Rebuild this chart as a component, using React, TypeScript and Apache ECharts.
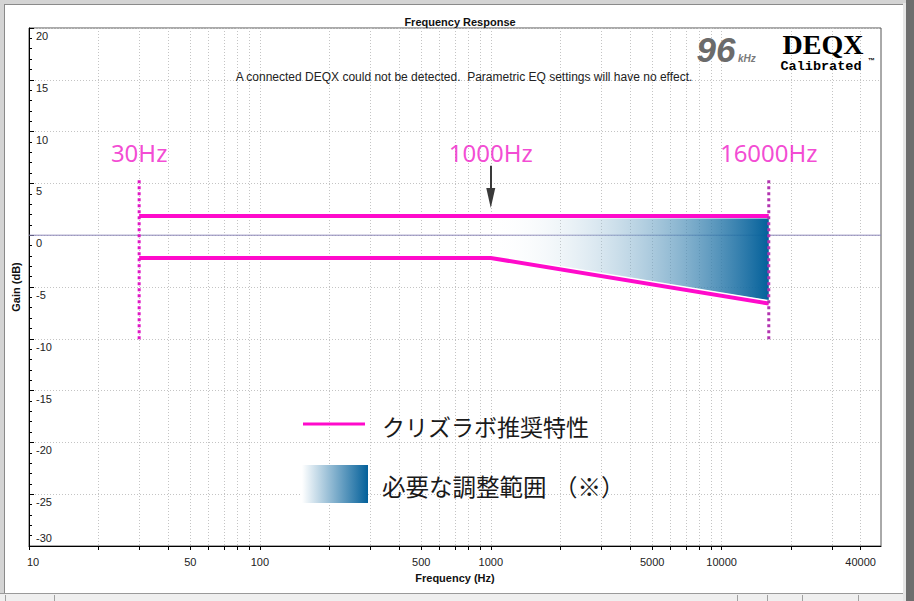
import React, { useEffect, useRef } from 'react';
import * as echarts from 'echarts';

// ---- data ----
const xMin = 10;
const xMax = 49000;
const xLabelValues = [10, 50, 100, 500, 1000, 5000, 10000, 40000];
const xGridValues = [
  10, 20, 30, 40, 50, 60, 70, 80, 90,
  100, 200, 300, 400, 500, 600, 700, 800, 900,
  1000, 2000, 3000, 4000, 5000, 6000, 7000, 8000, 9000,
  10000, 20000, 30000, 40000,
];
const yMin = -30;
const yMax = 20;
const yStep = 5;

const zeroResponse = [[10, 0], [49000, 0]];
const upperCurve = [[30, 1.85], [16000, 1.85]];
const lowerCurve = [[30, -2.2], [1000, -2.2], [16000, -6.6]];
const lowerCurveSlope = [[1000, -2.2], [16000, -6.6]];
const rangeBand = [[1000, 1.62], [16000, 1.62], [16000, -6.3], [1000, -1.95]];
const markerFreqs = [30, 1000, 16000];
const markerLabels = ['30Hz', '1000Hz', '16000Hz'];
const markerLabelLevel = 8.0;
const dashLeft = [[30, 5.3], [30, -10.1]];
const dashRight = [[16000, 5.3], [16000, -10.1]];
const arrowFrom = [1000, 6.7];
const arrowTo = [1000, 3.6];

const titleText = 'Frequency Response';
const xName = 'Frequency (Hz)';
const yName = 'Gain (dB)';
const noticeText = 'A connected DEQX could not be detected.  Parametric EQ settings will have no effect.';
const legendLineText = 'クリズラボ推奨特性';
const legendBandTextMain = '必要な調整範囲';
const legendBandTextNote = '（※）';

const SANS = "'Liberation Sans', Arial, sans-serif";
const JP = "'Noto Sans CJK JP', 'Noto Sans', sans-serif";
const MAGENTA = '#ff0acb';

export default function App() {
  const ref = useRef<HTMLDivElement>(null);
  useEffect(() => {
    document.body.style.margin = '0';
    const chart = echarts.init(ref.current!, null, { renderer: 'svg' });
    const bandGradient = () =>
      new echarts.graphic.LinearGradient(0, 0, 1, 0, [
        { offset: 0, color: 'rgba(255,255,255,0)' },
        { offset: 1, color: '#03609a' },
      ]);
    const option: any = {
      animation: false,
      backgroundColor: '#d4d4d4',
      title: {
        text: titleText,
        left: 455,
        top: 11,
        textAlign: 'center',
        textStyle: { fontSize: 11, fontWeight: 'bold', color: '#111', fontFamily: SANS },
      },
      grid: {
        left: 29, right: 33, top: 28, bottom: 55,
        show: true, backgroundColor: '#fff', borderColor: '#555', borderWidth: 1,
      },
      xAxis: {
        type: 'log',
        logBase: 10,
        min: xMin,
        max: xMax,
        name: xName,
        nameLocation: 'middle',
        nameGap: 26,
        nameTextStyle: { fontSize: 11, fontWeight: 'bold', color: '#111', fontFamily: SANS },
        axisLine: { show: true, onZero: false, lineStyle: { color: '#000', width: 1 } },
        axisTick: { show: true, customValues: xGridValues, length: 4, lineStyle: { color: '#000' } },
        axisLabel: {
          customValues: xLabelValues,
          margin: 10,
          fontSize: 11,
          color: '#222',
          fontFamily: SANS,
          formatter: (v: number) => {
            const r = Math.round(v);
            return r === 10 ? '{s|10}' : '{n|' + r + '}';
          },
          rich: {
            s: { padding: [0, 0, 0, 8], fontSize: 11, fontFamily: SANS, color: '#222' },
            n: { fontSize: 11, fontFamily: SANS, color: '#222' },
          },
        },
        splitLine: { show: true, lineStyle: { color: '#c4c4c4', type: [1, 2], width: 1 } },
        minorTick: { show: false },
        minorSplitLine: { show: false },
      },
      yAxis: {
        type: 'value',
        min: yMin,
        max: yMax,
        interval: yStep,
        name: yName,
        nameLocation: 'middle',
        nameGap: 3,
        nameTextStyle: { fontSize: 11, fontWeight: 'bold', color: '#111', fontFamily: SANS },
        axisLine: { show: true, onZero: false, lineStyle: { color: '#000', width: 1 } },
        axisTick: { show: true, inside: true, length: 5, lineStyle: { color: '#000' } },
        minorTick: { show: true, splitNumber: 5, length: 3, lineStyle: { color: '#000' } },
        axisLabel: {
          inside: true,
          margin: 7,
          verticalAlign: 'middle',
          formatter: (v: number) => (v === yMin ? '{b|' + v + '}' : '{a|' + v + '}'),
          rich: {
            a: { padding: [16, 0, 0, 0], fontSize: 11, fontFamily: SANS, color: '#222' },
            b: { padding: [0, 0, 16, 0], fontSize: 11, fontFamily: SANS, color: '#222' },
          },
        },
        splitLine: { show: true, lineStyle: { color: '#c4c4c4', type: [1, 2], width: 1 } },
      },
      series: [
        {
          type: 'line',
          data: zeroResponse,
          symbol: 'none',
          lineStyle: { color: '#8c86b8', width: 1 },
          z: 2,
          silent: true,
        },
        {
          type: 'custom',
          coordinateSystem: 'cartesian2d',
          data: [0],
          z: 3,
          silent: true,
          renderItem: (_p: any, api: any) => ({
            type: 'polygon',
            shape: { points: rangeBand.map((pt) => api.coord(pt)) },
            style: { fill: bandGradient() },
          }),
        },
        {
          type: 'line',
          data: lowerCurveSlope,
          symbol: 'none',
          lineStyle: { color: '#ffffff', width: 7 },
          z: 4,
          silent: true,
        },
        {
          type: 'line',
          data: upperCurve,
          symbol: 'none',
          lineStyle: { color: MAGENTA, width: 4 },
          z: 5,
          silent: true,
        },
        {
          type: 'line',
          data: lowerCurve,
          symbol: 'none',
          lineStyle: { color: MAGENTA, width: 4, join: 'miter' },
          z: 5,
          silent: true,
        },
        {
          type: 'line',
          data: dashLeft,
          symbol: 'none',
          lineStyle: { color: '#e016c4', width: 3, type: [3, 3] },
          z: 6,
          silent: true,
        },
        {
          type: 'line',
          data: dashRight,
          symbol: 'none',
          lineStyle: { color: '#b234b0', width: 3, type: [3, 3] },
          z: 6,
          silent: true,
          markLine: {
            silent: true,
            symbol: ['none', 'triangle'],
            symbolSize: [9, 20],
            lineStyle: { color: '#3a3a3a', width: 2, type: 'solid' },
            label: { show: false },
            data: [[{ coord: arrowFrom }, { coord: arrowTo }]],
          },
        },
        {
          type: 'scatter',
          data: markerFreqs.map((f, i) => ({ value: [f, markerLabelLevel], name: markerLabels[i] })),
          symbolSize: 1,
          itemStyle: { color: 'rgba(0,0,0,0)' },
          z: 7,
          silent: true,
          label: {
            show: true,
            position: 'inside',
            formatter: '{b}',
            fontSize: 24,
            color: '#f01ac8',
            fontFamily: "'Noto Sans', sans-serif",
          },
        },
      ],
      graphic: [
        { type: 'rect', z: -5, shape: { x: 5, y: 5, width: 898, height: 588 }, style: { fill: '#fff' } },
        { type: 'line', z: -4, shape: { x1: 4, y1: 4.5, x2: 903, y2: 4.5 }, style: { stroke: '#8a8a8a', lineWidth: 1 } },
        { type: 'line', z: -4, shape: { x1: 4.5, y1: 4, x2: 4.5, y2: 593 }, style: { stroke: '#8a8a8a', lineWidth: 1 } },
        { type: 'rect', z: -4, shape: { x: 903, y: 3, width: 3, height: 598 }, style: { fill: '#e6e6e6' } },
        { type: 'rect', z: -4, shape: { x: 906, y: 0, width: 8, height: 601 }, style: { fill: '#6e6e6e' } },
        { type: 'rect', z: -4, shape: { x: 0, y: 593, width: 903, height: 8 }, style: { fill: '#efefef' } },
        { type: 'line', z: -3, shape: { x1: 0, y1: 593.5, x2: 903, y2: 593.5 }, style: { stroke: '#9a9a9a', lineWidth: 1 } },
        ...[5, 54, 737, 767, 802, 858].map((x) => ({
          type: 'line', z: -3, shape: { x1: x + 0.5, y1: 595, x2: x + 0.5, y2: 601 }, style: { stroke: '#a0a0a0', lineWidth: 1 },
        })),
        {
          type: 'text', z: 50, x: 464, y: 77,
          style: { text: noticeText, fill: '#222', font: `12px ${SANS}`, textAlign: 'center', textVerticalAlign: 'middle' },
        },
        {
          type: 'text', z: 50, x: 716, y: 49,
          style: { text: '96', fill: '#6b6b6b', font: `italic bold 35px ${SANS}`, textAlign: 'center', textVerticalAlign: 'middle' },
        },
        {
          type: 'text', z: 50, x: 738, y: 58,
          style: { text: 'kHz', fill: '#7a7a7a', font: `italic bold 10px ${SANS}`, textAlign: 'left', textVerticalAlign: 'middle' },
        },
        {
          type: 'text', z: 50, x: 823, y: 44,
          style: { text: 'DEQX', fill: '#000', font: `bold 28px 'Liberation Serif', 'DejaVu Serif', serif`, textAlign: 'center', textVerticalAlign: 'middle' },
        },
        {
          type: 'text', z: 50, x: 821, y: 66,
          style: { text: 'Calibrated', fill: '#000', font: `bold 13.5px 'Liberation Mono', 'DejaVu Sans Mono', monospace`, textAlign: 'center', textVerticalAlign: 'middle' },
        },
        {
          type: 'text', z: 50, x: 868, y: 60,
          style: { text: '™', fill: '#000', font: `bold 7px ${SANS}`, textAlign: 'left', textVerticalAlign: 'middle' },
        },
        { type: 'line', z: 100, shape: { x1: 303, y1: 424, x2: 365, y2: 424 }, style: { stroke: MAGENTA, lineWidth: 3 } },
        {
          type: 'rect', z: 100, shape: { x: 302, y: 465, width: 66, height: 38 },
          style: { fill: new echarts.graphic.LinearGradient(0, 0, 1, 0, [
            { offset: 0, color: '#ffffff' },
            { offset: 1, color: '#03609a' },
          ]) },
        },
        {
          type: 'text', z: 100, x: 382, y: 426,
          style: { text: legendLineText, fill: '#1a1a1a', font: `23px ${JP}`, textAlign: 'left', textVerticalAlign: 'middle' },
        },
        {
          type: 'text', z: 100, x: 382, y: 486,
          style: { text: legendBandTextMain, fill: '#1a1a1a', font: `23.5px ${JP}`, textAlign: 'left', textVerticalAlign: 'middle' },
        },
        {
          type: 'text', z: 100, x: 554, y: 486,
          style: { text: legendBandTextNote, fill: '#1a1a1a', font: `23.5px ${JP}`, textAlign: 'left', textVerticalAlign: 'middle' },
        },
      ],
    };
    chart.setOption(option);
    return () => chart.dispose();
  }, []);
  return <div ref={ref} style={{ width: 914, height: 601 }} />;
}
